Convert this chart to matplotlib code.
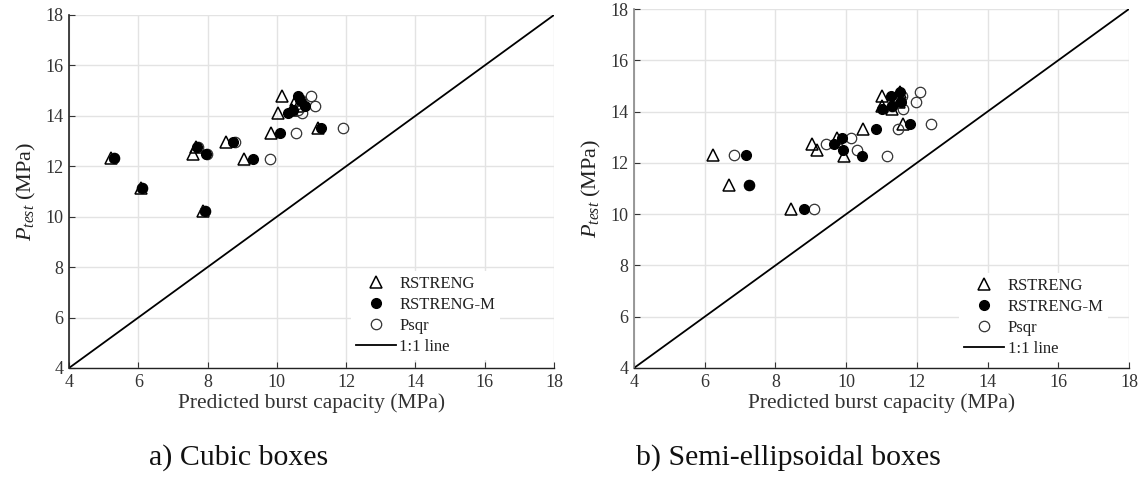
import matplotlib
matplotlib.use("Agg")
import matplotlib.pyplot as plt

plt.rcParams["font.family"] = ["Liberation Serif", "DejaVu Serif"]
plt.rcParams["mathtext.fontset"] = "custom"
plt.rcParams["mathtext.rm"] = "Liberation Serif"
plt.rcParams["mathtext.it"] = "Liberation Serif:italic"

# Measured burst pressures of the test specimens (MPa)
p_test = [12.32, 11.12, 10.21, 12.75, 12.49, 12.97, 12.28,
          13.31, 13.53, 14.10, 14.78, 14.62, 14.38, 14.22]

# Predicted burst capacity (MPa) - cubic boxes
cubic_rstreng = [5.21, 6.07, 7.88, 7.67, 7.59, 8.53, 9.06,
                 9.82, 11.18, 10.04, 10.14, 10.54, 10.62, 10.45]
cubic_rstreng_m = [5.31, 6.10, 7.92, 7.69, 7.95, 8.74, 9.32,
                   10.09, 11.27, 10.31, 10.62, 10.67, 10.81, 10.48]
cubic_psqr = [5.30, 6.10, 7.93, 7.72, 7.97, 8.78, 9.80,
              10.55, 11.92, 10.72, 10.99, 10.70, 11.10, 10.60]

# Predicted burst capacity (MPa) - semi-ellipsoidal boxes
semi_rstreng = [6.24, 6.69, 8.44, 9.03, 9.17, 9.75, 9.94,
                10.47, 11.60, 11.29, 11.52, 11.00, 11.50, 11.00]
semi_rstreng_m = [7.18, 7.26, 8.81, 9.66, 9.90, 9.87, 10.44,
                  10.84, 11.81, 11.00, 11.52, 11.27, 11.55, 11.29]
semi_psqr = [6.84, 7.26, 9.10, 9.43, 10.32, 10.14, 11.15,
             11.47, 12.40, 11.60, 12.10, 11.57, 11.98, 11.30]

axis_min, axis_max = 4, 18
ticks = [4, 6, 8, 10, 12, 14, 16, 18]
captions = ["a) Cubic boxes", "b) Semi-ellipsoidal boxes"]

fig = plt.figure(figsize=(11.44, 4.98), dpi=100)
ax_a = fig.add_axes([69 / 1144, 130 / 498, 485 / 1144, 353 / 498])
ax_b = fig.add_axes([634 / 1144, 130 / 498, 495 / 1144, 359 / 498])

panels = [
    (ax_a, cubic_rstreng, cubic_rstreng_m, cubic_psqr, (0.581, 0.275), "#222222"),
    (ax_b, semi_rstreng, semi_rstreng_m, semi_psqr, (0.657, 0.266), "#888888"),
]

for ax, xr, xm, xp, leg_anchor, spine_col in panels:
    ax.plot(xr, p_test, linestyle="none", marker="^", markersize=8,
            markerfacecolor="none", markeredgecolor="black",
            markeredgewidth=1.1, label="RSTRENG", zorder=3)
    ax.plot(xm, p_test, linestyle="none", marker="o", markersize=7,
            markerfacecolor="black", markeredgecolor="black",
            label="RSTRENG-M", zorder=4)
    ax.plot(xp, p_test, linestyle="none", marker="o", markersize=7.5,
            markerfacecolor="none", markeredgecolor="#333333",
            markeredgewidth=0.9, label="Psqr", zorder=3)
    ax.plot([axis_min, axis_max], [axis_min, axis_max], color="black",
            linewidth=1.3, label="1:1 line", zorder=2)

    ax.set_xlim(axis_min, axis_max)
    ax.set_ylim(axis_min, axis_max)
    ax.set_xticks(ticks)
    ax.set_yticks(ticks)
    ax.grid(True, color="#e3e3e3", linewidth=1.0)
    ax.set_axisbelow(True)
    for side in ("top", "right"):
        ax.spines[side].set_visible(False)
    ax.spines["left"].set_color(spine_col)
    ax.spines["left"].set_linewidth(1.2)
    ax.spines["bottom"].set_color("#222222")
    ax.spines["bottom"].set_linewidth(1.0)
    ax.tick_params(direction="in", length=4, width=0.8, colors="#333333",
                   labelsize=13, pad=4)
    ax.set_xlabel("Predicted burst capacity (MPa)", fontsize=15.5,
                  color="#333333", labelpad=2)
    ax.set_ylabel(r"$P_{test}$ (MPa)", fontsize=16, color="#222222",
                  labelpad=5)

    leg = ax.legend(loc="upper left", bbox_to_anchor=leg_anchor,
                    borderaxespad=0, frameon=True, fontsize=12,
                    handlelength=2.4, handletextpad=0.2,
                    labelspacing=0.3, borderpad=0.3)
    leg.get_frame().set_facecolor("white")
    leg.get_frame().set_edgecolor("none")
    leg.get_frame().set_alpha(1.0)
    for txt in leg.get_texts():
        txt.set_color("#222222")

fig.text(239 / 1144, 1 - 458 / 498, captions[0], ha="center", va="center",
         fontsize=21.5, color="#111111")
fig.text(788 / 1144, 1 - 458 / 498, captions[1], ha="center", va="center",
         fontsize=21.5, color="#111111")

fig.savefig("out.png", dpi=100)
